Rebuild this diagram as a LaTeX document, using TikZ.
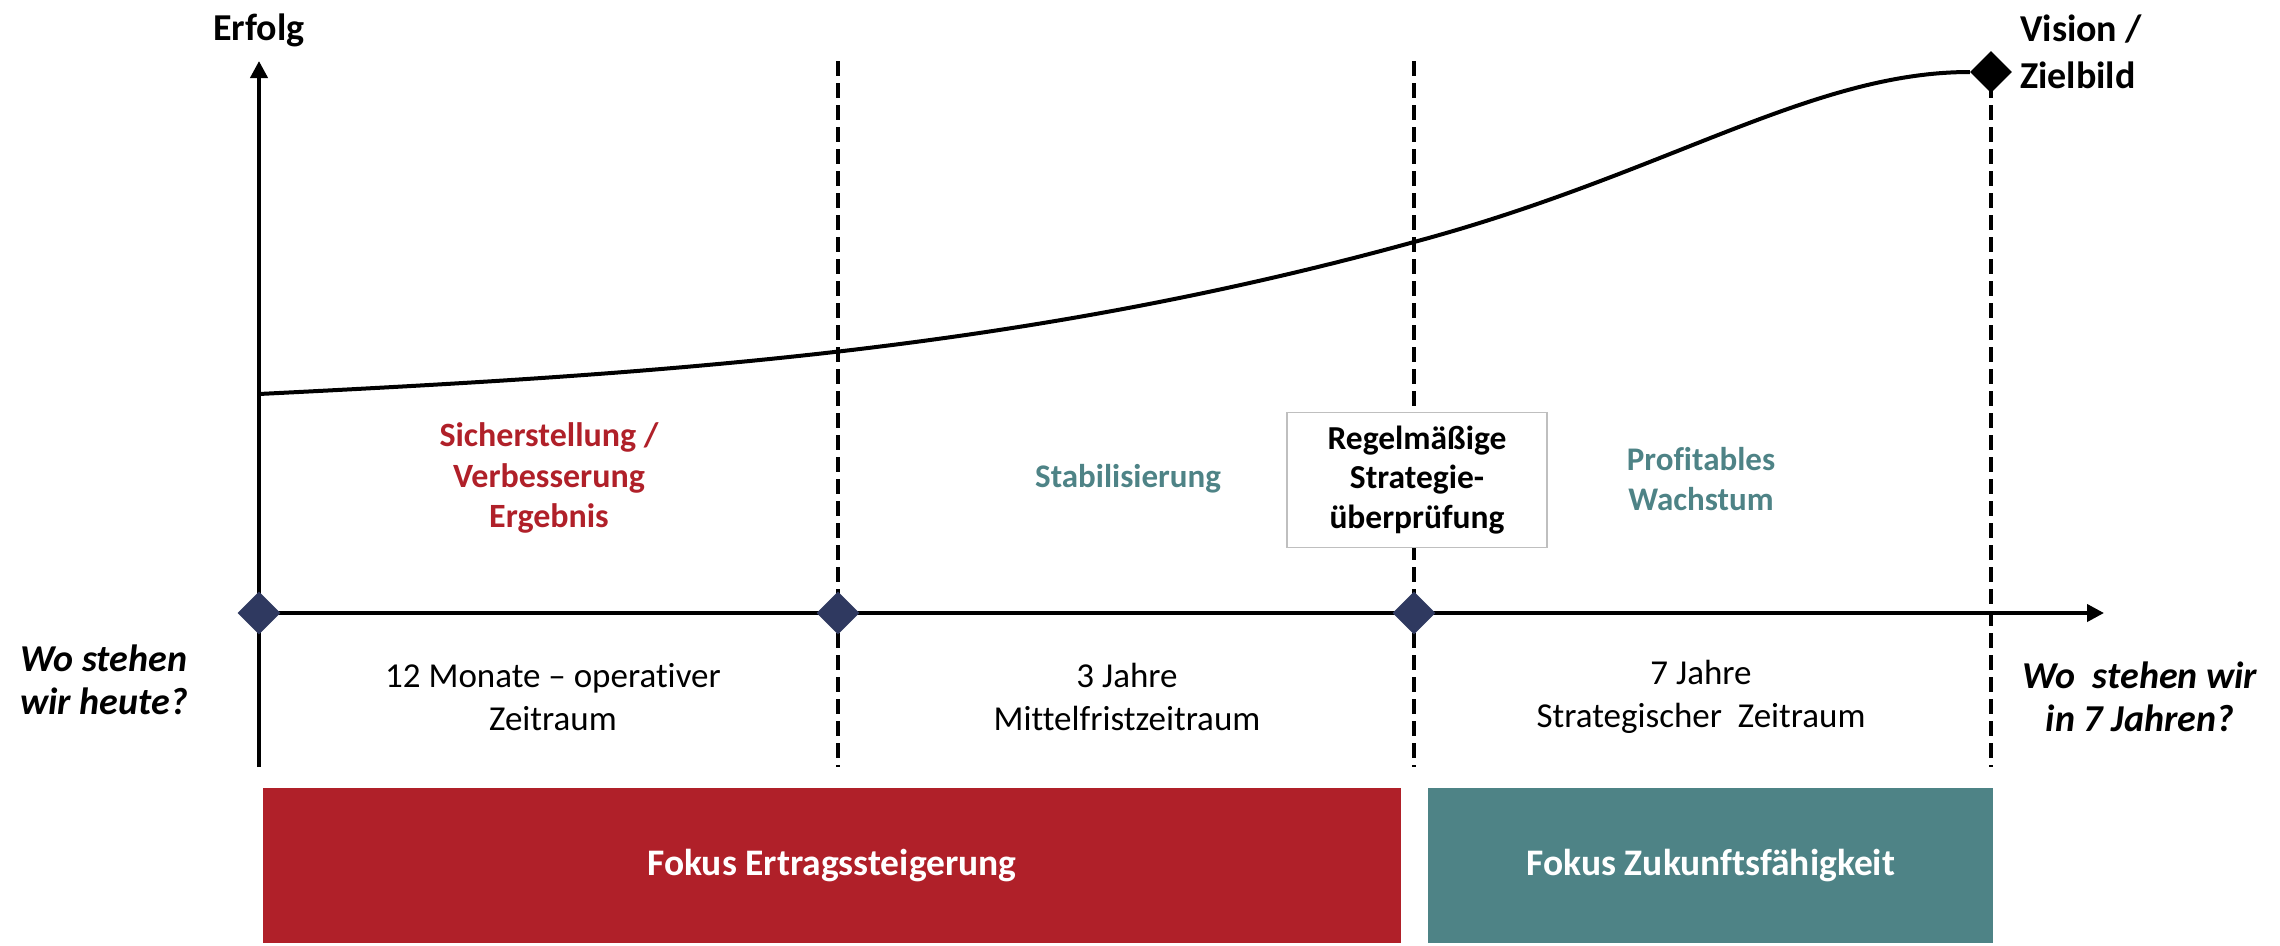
\documentclass[tikz,border=0pt]{standalone}
\usepackage{fontspec}
\setmainfont[Ligatures={NoCommon}]{Carlito}
\usetikzlibrary{arrows.meta,shapes.geometric}
\definecolor{fred}{HTML}{B02029}
\definecolor{fteal}{HTML}{4E8386}
\definecolor{fnavy}{HTML}{2F3960}
\tikzset{
  axisline/.style={line width=4pt,-{Triangle[length=17pt,width=17pt]}},
  vdash/.style={line width=3.5pt,dash pattern=on 15pt off 7pt},
  curveline/.style={line width=4pt},
  navydia/.style={diamond,aspect=1,fill=fnavy,inner sep=0pt,minimum width=43pt,minimum height=43pt},
  blackdia/.style={diamond,aspect=1,fill=black,inner sep=0pt,minimum width=42pt,minimum height=42pt},
  regtext/.style={align=center,font=\fontsize{35}{43}\selectfont,inner sep=0pt},
  redlab/.style={align=center,text=fred,font=\fontsize{34}{40.5}\selectfont\bfseries,inner sep=0pt},
  teallab/.style={align=center,text=fteal,font=\fontsize{33}{40}\selectfont\bfseries,inner sep=0pt},
  qtext/.style={align=center,font=\fontsize{38}{43}\selectfont\bfseries\itshape,inner sep=0pt},
  focusbox/.style={text=white,font=\fontsize{37.5}{44}\selectfont\bfseries,inner sep=0pt},
}
\begin{document}
\begin{tikzpicture}[x=1pt,y=-1pt]
\useasboundingbox (0,0) rectangle (2280,945);
% coordinates
\coordinate (yb) at (259,767);
\coordinate (yt) at (259,61);
\coordinate (x0) at (259,613);
\coordinate (xe) at (2104,613);
\coordinate (d1t) at (838,61);
\coordinate (d1b) at (838,767);
\coordinate (d2t) at (1414,61);
\coordinate (d2b) at (1414,767);
\coordinate (d3t) at (1991,61);
\coordinate (d3b) at (1991,767);
% dashed lines
\draw[vdash] (d1t) -- (d1b);
\draw[vdash] (d2t) -- (d2b);
\draw[vdash] (d3t) -- (d3b);
% axes
\draw[axisline] (yb) -- (yt);
\draw[axisline] (x0) -- (xe);
\node[navydia] (m0) at (x0) {};
\node[navydia] (m1) at (838,613) {};
\node[navydia] (m2) at (1414,613) {};
% curve
\coordinate (c0) at (259,394);
\coordinate (c1) at (1414,242);
\node[blackdia] (vis) at (1991,72) {};
\draw[curveline] (c0) .. controls (659,374) and (1014,352) .. (c1)
  .. controls (1664,175) and (1811,72) .. (vis.west);
% labels
\node[font=\fontsize{38}{44}\selectfont\bfseries,inner sep=0pt] (erfolg) at (259,30) {Erfolg};
\node[anchor=west,align=left,font=\fontsize{38}{46.5}\selectfont\bfseries,inner sep=0pt] (vision) at (2020,52) {Vision /\\Zielbild};
\node[redlab] (sich) at (549,478) {Sicherstellung /\\Verbesserung\\Ergebnis};
\node[teallab] (stab) at (1128,479) {Stabilisierung};
\node[draw=black!25,line width=1.5pt,fill=white,minimum width=260pt,minimum height=135pt,align=center,font=\fontsize{33.5}{39.5}\selectfont\bfseries,inner sep=0pt] (rev) at (1417,480) {Regelmäßige\\Strategie-\\überprüfung};
\node[teallab] (prof) at (1701,479) {Profitables\\Wachstum};
\node[qtext] (heute) at (104,680) {Wo stehen\\wir heute?};
\node[regtext] (t1) at (553,697) {12 Monate – operativer\\Zeitraum};
\node[regtext] (t2) at (1127,697) {3 Jahre\\Mittelfristzeitraum};
\node[regtext] (t3) at (1701,697) {7 Jahre\\Strategischer~ Zeitraum};
\node[qtext] (sieben) at (2140,697) {Wo~ stehen wir\\in 7 Jahren?};
% focus boxes
\fill[fred] (263,788) rectangle (1401,943);
\fill[fteal] (1428,788) rectangle (1993,943);
\node[focusbox] (f1) at (832,866) {Fokus Ertragssteigerung};
\node[focusbox] (f2) at (1711,866) {Fokus Zukunftsfähigkeit};
\end{tikzpicture}
\end{document}
